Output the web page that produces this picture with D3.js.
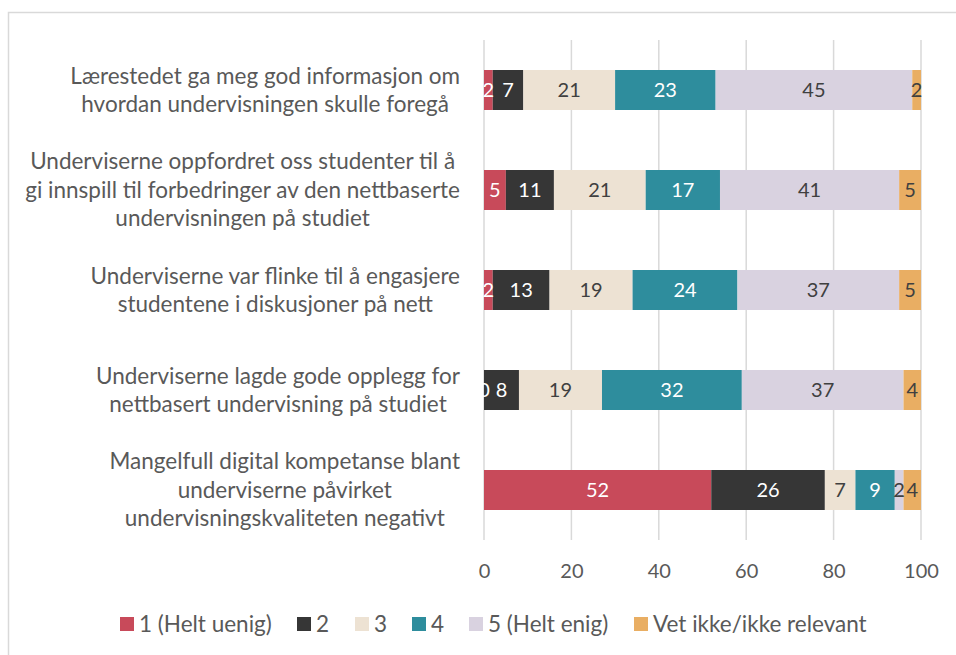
<!DOCTYPE html>
<meta charset="utf-8">
<style>
    body { margin: 0; background: #fff; }
    text { font-family: Lato, "Open Sans", sans-serif; }
    .grid line { stroke: #d9d9d9; stroke-width: 1.5px; }
    .tick-label { fill: #595959; font-size: 20px; }
    .cat-label, .legend text { fill: #595959; font-size: 22.5px; }
    .value { font-size: 20px; }
</style>
<body>
<script src="https://cdn.jsdelivr.net/npm/d3@7"></script>
<script>
    // categories, top to bottom, already broken into lines like the source
    var categories = [
        ["Lærestedet ga meg god informasjon om", "hvordan undervisningen skulle foregå"],
        ["Underviserne oppfordret oss studenter til å", "gi innspill til forbedringer av den nettbaserte", "undervisningen på studiet"],
        ["Underviserne var flinke til å engasjere", "studentene i diskusjoner på nett"],
        ["Underviserne lagde gode opplegg for", "nettbasert undervisning på studiet"],
        ["Mangelfull digital kompetanse blant", "underviserne påvirket", "undervisningskvaliteten negativt"]
    ];

    var seriesNames = ["1 (Helt uenig)", "2", "3", "4", "5 (Helt enig)", "Vet ikke/ikke relevant"];

    // percent per category for each answer
    var helUenig = [2, 5, 2, 0, 52];
    var svar2    = [7, 11, 13, 8, 26];
    var svar3    = [21, 21, 19, 19, 7];
    var svar4    = [23, 17, 24, 32, 9];
    var helEnig  = [45, 41, 37, 37, 2];
    var vetIkke  = [2, 5, 5, 4, 4];

    var xTicks = [0, 20, 40, 60, 80, 100];

    var colors = ["#c84a5a", "#363636", "#ede2d3", "#2e8d9d", "#d9d2e0", "#e9ae63"];
    var labelColors = ["#ffffff", "#ffffff", "#404040", "#ffffff", "#404040", "#404040"];

    var seriesValues = [helUenig, svar2, svar3, svar4, helEnig, vetIkke];

    var rows = categories.map(function(c, i) {
        var r = {key: i};
        seriesNames.forEach(function(s, j) { r[s] = seriesValues[j][i]; });
        return r;
    });

    var width = 956, height = 655;
    var plot = {left: 484, right: 921, top: 40, bottom: 540};

    var svg = d3.select("body").append("svg")
        .attr("width", width)
        .attr("height", height);

    svg.append("rect")
        .attr("x", 8.5).attr("y", 12.5)
        .attr("width", 1000).attr("height", 700)
        .attr("fill", "#fff")
        .attr("stroke", "#d9d9d9")
        .attr("stroke-width", 1.5);

    var x = d3.scaleLinear()
        .domain([0, 100])
        .range([plot.left, plot.right]);

    var y = d3.scaleBand()
        .domain(d3.range(categories.length))
        .range([plot.top, plot.bottom])
        .paddingInner(0.6)
        .paddingOuter(0.3);

    // gridlines
    svg.append("g").attr("class", "grid")
        .selectAll("line")
        .data(xTicks)
        .join("line")
        .attr("x1", function(d) { return x(d); })
        .attr("x2", function(d) { return x(d); })
        .attr("y1", plot.top)
        .attr("y2", plot.bottom);

    var xAxis = d3.axisBottom(x).tickValues(xTicks).tickSize(0).tickPadding(0);
    var gx = svg.append("g")
        .attr("transform", "translate(0," + 571 + ")")
        .call(xAxis);
    gx.select(".domain").remove();
    gx.attr("font-size", null).attr("font-family", null);
    gx.selectAll("text")
        .attr("class", "tick-label")
        .attr("dy", "0.35em");

    var stack = d3.stack().keys(seriesNames);
    var layers = stack(rows);

    var g = svg.append("g");
    g.selectAll("g.layer")
        .data(layers)
        .join("g")
        .attr("class", "layer")
        .attr("fill", function(d, i) { return colors[i]; })
        .selectAll("rect")
        .data(function(d) { return d; })
        .join("rect")
        .attr("x", function(d) { return x(d[0]); })
        .attr("width", function(d) { return x(d[1]) - x(d[0]); })
        .attr("y", function(d, i) { return y(i); })
        .attr("height", y.bandwidth());

    // data labels on top of every bar
    layers.forEach(function(layer, li) {
        g.append("g").selectAll("text")
            .data(layer)
            .join("text")
            .attr("class", "value")
            .attr("x", function(d) { return (x(d[0]) + x(d[1])) / 2; })
            .attr("y", function(d, i) { return y(i) + y.bandwidth() / 2; })
            .attr("dy", "0.35em")
            .attr("text-anchor", "middle")
            .attr("fill", labelColors[li])
            .text(function(d) { return d[1] - d[0]; });
    });

    // category labels: block right-aligned, lines centred inside it
    var lineH = 28.5;
    var labelRight = 460;
    categories.forEach(function(lines, i) {
        var cy = y(i) + y.bandwidth() / 2;
        var t = svg.append("g");
        var texts = t.selectAll("text")
            .data(lines)
            .join("text")
            .attr("class", "cat-label")
            .attr("text-anchor", "middle")
            .attr("dy", "0.35em")
            .attr("y", function(d, k) { return cy + (k - (lines.length - 1) / 2) * lineH; })
            .text(function(d) { return d; });
        var maxW = 0;
        texts.each(function() { maxW = Math.max(maxW, this.getComputedTextLength()); });
        texts.attr("x", labelRight - maxW / 2);
    });

    // legend
    var legendX = [120, 297, 355, 412, 469, 634];
    var legend = svg.append("g").attr("class", "legend")
        .selectAll("g")
        .data(seriesNames)
        .join("g")
        .attr("transform", function(d, i) { return "translate(" + legendX[i] + ",624)"; });
    legend.append("rect")
        .attr("x", 0).attr("y", -7)
        .attr("width", 14).attr("height", 14)
        .attr("fill", function(d, i) { return colors[i]; });
    legend.append("text")
        .attr("x", 19)
        .attr("dy", "0.35em")
        .text(function(d) { return d; });
</script>
